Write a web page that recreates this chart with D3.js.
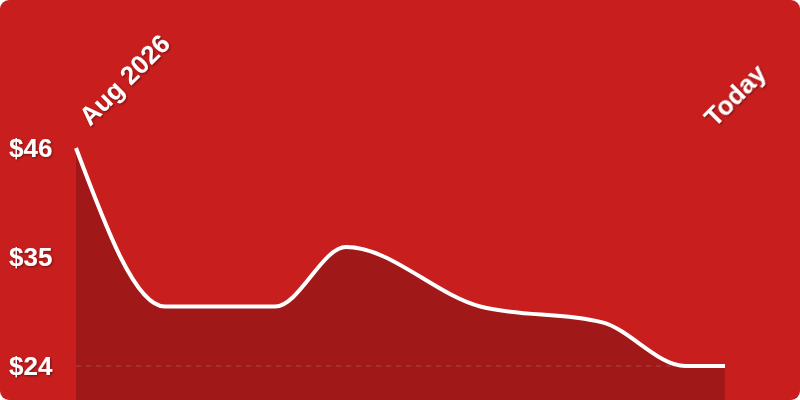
<!DOCTYPE html>
<html>
<head>
<meta charset="utf-8">
<script src="https://cdn.jsdelivr.net/npm/d3@7"></script>
<style>
  body { margin: 0; background: #fff; }
  svg { display: block; }
</style>
</head>
<body>
<div id="chart"></div>
<script>
// price history, x is days since start
const days = [0, 13.7, 30.7, 41.6, 62.3, 81.1, 93.9, 100];
const prices = [46, 30, 30, 36, 30, 28.4, 24, 24];
const yTicks = [46, 35, 24];
const startLabel = "Aug 2026";
const endLabel = "Today";

const width = 800;
const height = 400;
const marginLeft = 76;
const marginRight = 75;

const x = d3.scaleLinear([0, 100], [marginLeft, width - marginRight]);
const y = d3.scaleLinear([24, 46], [366, 148]);

const data = days.map((d, i) => ({ day: d, price: prices[i] }));

const svg = d3.select("#chart").append("svg")
    .attr("width", width)
    .attr("height", height)
    .attr("viewBox", [0, 0, width, height]);

//drop shadow for the white labels
svg.append("defs").append("filter")
    .attr("id", "shadow")
    .attr("x", "-20%").attr("y", "-20%")
    .attr("width", "140%").attr("height", "140%")
    .append("feDropShadow")
    .attr("dx", 1).attr("dy", 1)
    .attr("stdDeviation", 1.2)
    .attr("flood-color", "#000")
    .attr("flood-opacity", 0.45);

//red card
svg.append("rect")
    .attr("width", width)
    .attr("height", height)
    .attr("rx", 9)
    .attr("fill", "#c81e1e");

//area under the line
const area = d3.area()
    .x(d => x(d.day))
    .y0(height)
    .y1(d => y(d.price))
    .curve(d3.curveMonotoneX);

svg.append("path")
    .datum(data)
    .attr("fill", "rgba(0,0,0,0.2)")
    .attr("d", area);

//dashed baseline at the lowest tick
svg.append("line")
    .attr("x1", x(0))
    .attr("x2", x(100))
    .attr("y1", y(24))
    .attr("y2", y(24))
    .attr("stroke", "rgba(190,190,190,0.3)")
    .attr("stroke-width", 1)
    .attr("stroke-dasharray", "5,5");

const line = d3.line()
    .x(d => x(d.day))
    .y(d => y(d.price))
    .curve(d3.curveMonotoneX);

svg.append("path")
    .datum(data)
    .attr("fill", "none")
    .attr("stroke", "#fff")
    .attr("stroke-width", 4)
    .attr("d", line);

//y labels
svg.append("g")
    .attr("font-family", "'Liberation Sans', Arial, sans-serif")
    .attr("font-weight", "bold")
    .attr("font-size", 26)
    .attr("fill", "#fff")
    .attr("filter", "url(#shadow)")
    .selectAll("text")
    .data(yTicks)
    .join("text")
    .attr("x", 9)
    .attr("y", d => y(d))
    .attr("dy", "0.36em")
    .text(d => "$" + d);

//rotated date labels
const labels = svg.append("g")
    .attr("font-family", "'Liberation Sans', Arial, sans-serif")
    .attr("font-weight", "bold")
    .attr("font-size", 26)
    .attr("fill", "#fff")
    .attr("filter", "url(#shadow)");

labels.append("text")
    .attr("transform", `translate(${x(0) + 14},${127}) rotate(-45)`)
    .text(startLabel);

labels.append("text")
    .attr("transform", `translate(${x(100) - 10},${128}) rotate(-45)`)
    .text(endLabel);
</script>
</body>
</html>
